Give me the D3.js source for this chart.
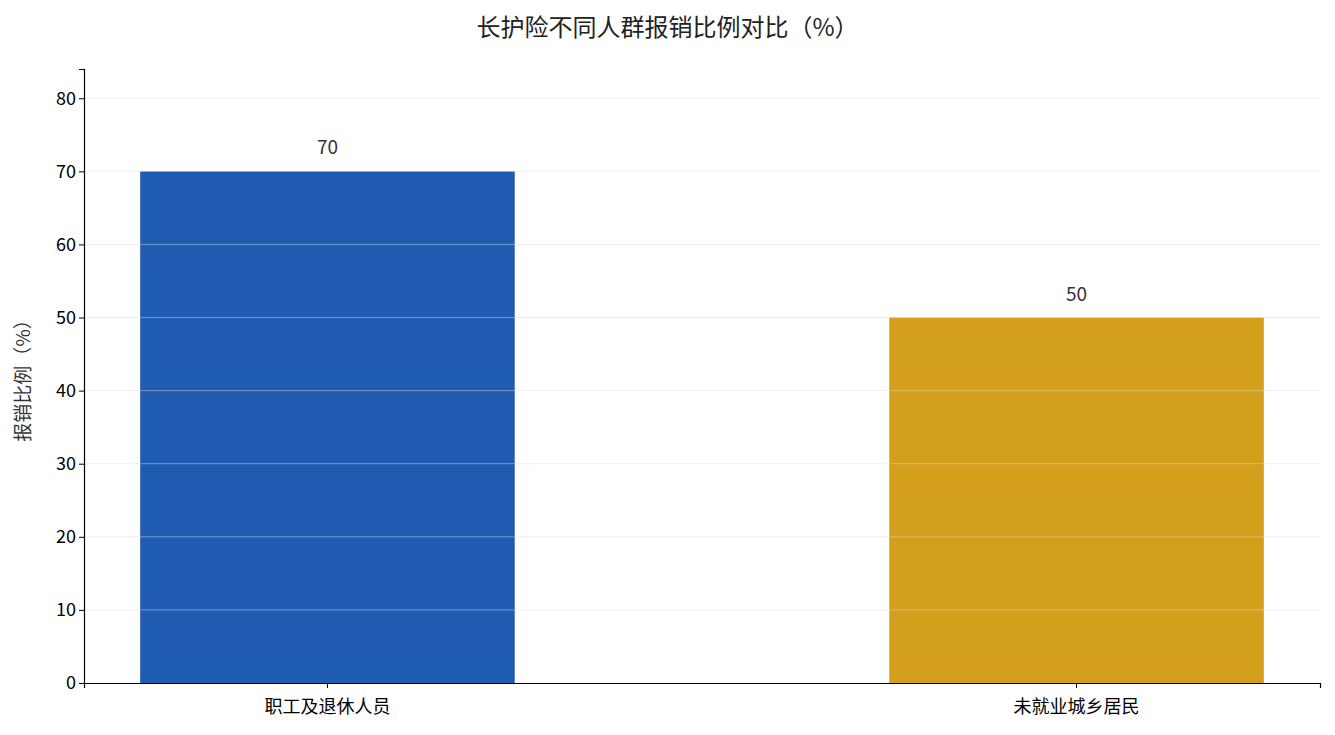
<!DOCTYPE html>
<html>
<head>
<meta charset="utf-8">
<script src="https://cdn.jsdelivr.net/npm/d3@7"></script>
<style>
  body { margin: 0; background: #fff; }
  text { font-family: "Noto Sans CJK SC", "Noto Sans", sans-serif; }
</style>
</head>
<body>
<svg id="chart"></svg>
<script>
// data
const categories = ["职工及退休人员", "未就业城乡居民"];
const values = [70, 50];
const colors = ["#1f5bb0", "#d4a01b"];
const yTicks = [0, 10, 20, 30, 40, 50, 60, 70, 80];

const width = 1335, height = 735;
const margin = { top: 69, right: 15, bottom: 52, left: 84 };

const svg = d3.select("#chart").attr("width", width).attr("height", height);

const x = d3.scaleBand()
    .domain(categories)
    .range([margin.left, width - margin.right])
    .paddingInner(0.5)
    .paddingOuter(0.075);

const y = d3.scaleLinear()
    .domain([0, 84])
    .range([height - margin.bottom, margin.top]);

// title
svg.append("text")
    .attr("x", width / 2)
    .attr("y", 36)
    .attr("text-anchor", "middle")
    .style("font-size", "24px")
    .style("fill", "#222")
    .text("长护险不同人群报销比例对比（%）");

// bars
svg.selectAll("rect.bar")
    .data(values)
    .enter().append("rect")
    .attr("class", "bar")
    .attr("x", (d, i) => x(categories[i]))
    .attr("y", d => y(d))
    .attr("width", x.bandwidth())
    .attr("height", d => y(0) - y(d))
    .attr("fill", (d, i) => colors[i]);

// grid over bars
svg.append("g")
    .selectAll("line")
    .data(yTicks.filter(t => t > 0))
    .enter().append("line")
    .attr("x1", margin.left)
    .attr("x2", width - margin.right)
    .attr("y1", d => y(d))
    .attr("y2", d => y(d))
    .attr("stroke", "#ddd")
    .attr("stroke-opacity", 0.6)
    .attr("stroke-width", 0.8);

// value labels
svg.selectAll("text.val")
    .data(values)
    .enter().append("text")
    .attr("class", "val")
    .attr("x", (d, i) => x(categories[i]) + x.bandwidth() / 2)
    .attr("y", d => y(d) - 17)
    .attr("text-anchor", "middle")
    .style("font-size", "19px")
    .style("fill", "#333")
    .text(d => d);

// axes
const xAxis = svg.append("g")
    .attr("transform", `translate(0,${height - margin.bottom})`)
    .call(d3.axisBottom(x).tickSizeOuter(0).tickSize(5));
xAxis.selectAll("text").style("font-size", "18px").style("fill", "#000").attr("dy", "1.2em");

const yAxis = svg.append("g")
    .attr("transform", `translate(${margin.left},0)`)
    .call(d3.axisLeft(y).tickValues(yTicks).tickSizeOuter(0).tickSize(5));
yAxis.selectAll("text").style("font-size", "18px").style("fill", "#000");

svg.selectAll(".domain").attr("stroke", "#000").attr("stroke-width", 1.2);

svg.append("text")
    .attr("transform", `translate(30,${(margin.top + height - margin.bottom) / 2}) rotate(-90)`)
    .attr("text-anchor", "middle")
    .style("font-size", "19px")
    .style("fill", "#333")
    .text("报销比例（%）");
</script>
</body>
</html>
